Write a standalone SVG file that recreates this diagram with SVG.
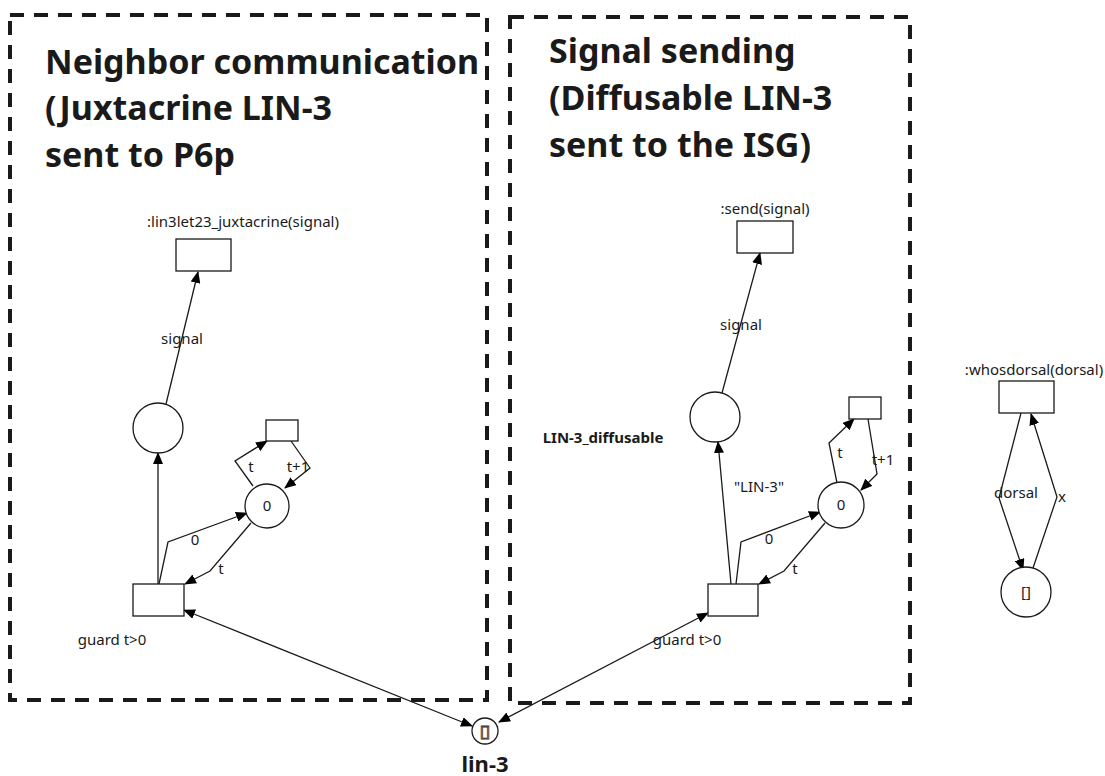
<svg xmlns="http://www.w3.org/2000/svg" width="1105" height="776" viewBox="0 0 1105 776">
<style>
.box{fill:none;stroke:#1a1a1a;stroke-width:4;stroke-dasharray:14 10}
.title{font-family:"Noto Sans","Open Sans",sans-serif;font-weight:bold;font-size:34px;fill:#1a1a1a}
.lbl{font-family:"Noto Sans","Open Sans",sans-serif;font-size:15px;fill:#1a1a1a}
.blbl{font-family:"Noto Sans","Open Sans",sans-serif;font-size:15px;font-weight:bold;fill:#1a1a1a}
.node{fill:#fff;stroke:#1a1a1a;stroke-width:1.3}
.arc{fill:none;stroke:#1a1a1a;stroke-width:1.3}
</style>
<defs>
<marker id="ah" markerWidth="12" markerHeight="10" refX="11" refY="5" orient="auto-start-reverse" markerUnits="userSpaceOnUse">
<path d="M0,0 L12,5 L0,10 Z" fill="#000"/>
</marker>
</defs>

<g id="group-left">
<rect class="box" x="10" y="15" width="477" height="685"/>
<text class="title" x="45" y="74">Neighbor communication</text>
<text class="title" x="45" y="120">(Juxtacrine LIN-3</text>
<text class="title" x="45" y="167">sent to P6p</text>
</g>
<g id="group-right">
<rect class="box" x="510" y="17" width="400" height="686"/>
<text class="title" x="549" y="63">Signal sending</text>
<text class="title" x="549" y="110">(Diffusable LIN-3</text>
<text class="title" x="549" y="157">sent to the ISG)</text>
</g>

<g id="connectors">
<!-- left net -->
<path class="arc" d="M166,404 L198,272" marker-end="url(#ah)"/>
<path class="arc" d="M158,584 L158,453" marker-end="url(#ah)"/>
<path class="arc" d="M159,584 L168,542 L247,513" marker-end="url(#ah)"/>
<path class="arc" d="M251,523 L210,571 L185,584" marker-end="url(#ah)"/>
<path class="arc" d="M253,486 L235,461 L267,441" marker-end="url(#ah)"/>
<path class="arc" d="M291,441 L310,468 L285,488" marker-end="url(#ah)"/>
<path class="arc" d="M472,726 L184,610" marker-start="url(#ah)" marker-end="url(#ah)"/>
<!-- right net -->
<path class="arc" d="M722,393 L760,253" marker-end="url(#ah)"/>
<path class="arc" d="M731,584 L718,442" marker-end="url(#ah)"/>
<path class="arc" d="M736,584 L741,542 L820,512" marker-end="url(#ah)"/>
<path class="arc" d="M825,523 L784,571 L759,584" marker-end="url(#ah)"/>
<path class="arc" d="M837,483 L829,443 L854,419" marker-end="url(#ah)"/>
<path class="arc" d="M868,419 L877,474 L861,490" marker-end="url(#ah)"/>
<path class="arc" d="M499,722 L708,613" marker-start="url(#ah)" marker-end="url(#ah)"/>
<!-- whosdorsal -->
<path class="arc" d="M1021,413 L999,498 L1023,570" marker-end="url(#ah)"/>
<path class="arc" d="M1033,568 L1057,497 L1031,414" marker-end="url(#ah)"/>
<!-- arc labels -->
<text class="lbl" x="182" y="344" text-anchor="middle">signal</text>
<text class="lbl" x="195" y="545" text-anchor="middle">0</text>
<text class="lbl" x="221" y="574" text-anchor="middle">t</text>
<text class="lbl" x="251" y="472" text-anchor="middle">t</text>
<text class="lbl" x="298" y="472" text-anchor="middle">t+1</text>
<text class="lbl" x="741" y="330" text-anchor="middle">signal</text>
<text class="lbl" x="759" y="492" text-anchor="middle">"LIN-3"</text>
<text class="lbl" x="769" y="544" text-anchor="middle">0</text>
<text class="lbl" x="795" y="574" text-anchor="middle">t</text>
<text class="lbl" x="840" y="458" text-anchor="middle">t</text>
<text class="lbl" x="883" y="465" text-anchor="middle">t+1</text>
<text class="lbl" x="1016" y="498" text-anchor="middle">dorsal</text>
<text class="lbl" x="1062" y="502" text-anchor="middle">x</text>
</g>

<g id="t-juxtacrine">
<text class="lbl" x="243" y="227" text-anchor="middle">:lin3let23_juxtacrine(signal)</text>
<rect class="node" x="176" y="239" width="55" height="32"/>
</g>
<g id="p-left-signal">
<circle class="node" cx="158" cy="428" r="25"/>
</g>
<g id="t-left-counter">
<rect class="node" x="266" y="420" width="32" height="21"/>
</g>
<g id="p-left-counter">
<circle class="node" cx="267" cy="506" r="22"/>
<text class="lbl" x="267" y="511" text-anchor="middle">0</text>
</g>
<g id="t-left-guard">
<rect class="node" x="133" y="584" width="51" height="32"/>
<text class="lbl" x="112" y="645" text-anchor="middle">guard t&gt;0</text>
</g>

<g id="t-send">
<text class="lbl" x="765" y="214" text-anchor="middle">:send(signal)</text>
<rect class="node" x="737" y="221" width="56" height="32"/>
</g>
<g id="p-diffusable">
<circle class="node" cx="715" cy="417" r="25"/>
<text class="blbl" x="603" y="443" text-anchor="middle">LIN-3_diffusable</text>
</g>
<g id="t-right-counter">
<rect class="node" x="849" y="397" width="32" height="22"/>
</g>
<g id="p-right-counter">
<circle class="node" cx="841" cy="505" r="23"/>
<text class="lbl" x="841" y="510" text-anchor="middle">0</text>
</g>
<g id="t-right-guard">
<rect class="node" x="708" y="584" width="50" height="32"/>
<text class="lbl" x="687" y="645" text-anchor="middle">guard t&gt;0</text>
</g>

<g id="p-lin3">
<circle class="node" cx="485" cy="731" r="13"/>
<text x="485" y="736" text-anchor="middle" style="font-family:'Noto Sans','Open Sans',sans-serif;font-size:15px;fill:#fff;stroke:#1a1a1a;stroke-width:0.8">[]</text>
<text x="485" y="772" text-anchor="middle" style="font-family:'Noto Sans','Open Sans',sans-serif;font-weight:bold;font-size:22px;fill:#1a1a1a">lin-3</text>
</g>

<g id="t-whosdorsal">
<text class="lbl" x="1034" y="375" text-anchor="middle">:whosdorsal(dorsal)</text>
<rect class="node" x="999" y="381" width="55" height="32"/>
</g>
<g id="p-dorsal">
<circle class="node" cx="1026" cy="592" r="25"/>
<text class="lbl" x="1026" y="597" text-anchor="middle">[]</text>
</g>
</svg>
